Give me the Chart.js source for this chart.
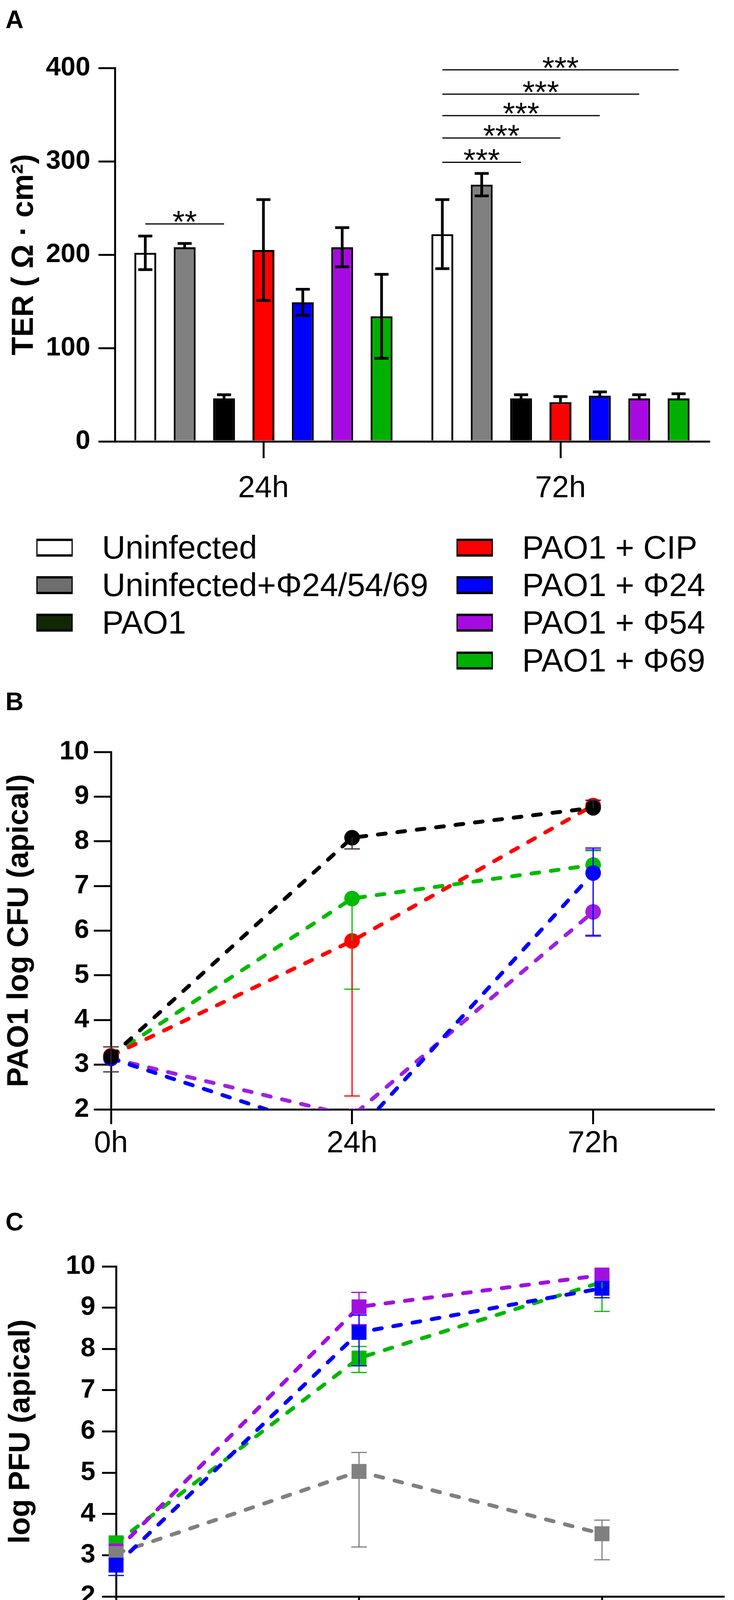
<!DOCTYPE html>
<html>
<head>
<meta charset="utf-8">
<script src="https://cdn.jsdelivr.net/npm/chart.js@4.4.1/dist/chart.umd.min.js"></script>
<style>
  body { margin: 0; background: #fff; width: 1878px; height: 4204px; position: relative; overflow: hidden;
         font-family: "Liberation Sans", Arial, sans-serif; color: #000; }
  .box { position: absolute; left: 0; width: 1878px; }
  .tag { position: absolute; font-weight: bold; font-size: 64px; line-height: 64px; }
  .leg { position: absolute; height: 96px; display: flex; align-items: center; font-size: 83px; white-space: nowrap; }
  .leg .sw { width: 87px; height: 34px; border-style: solid; border-color: #000; border-width: 6px 3px; margin-right: 75px; }
</style>
</head>
<body>
<div class="tag" style="left:14px;top:18px">A</div>
<div class="tag" style="left:14px;top:1764px">B</div>
<div class="tag" style="left:14px;top:3096px">C</div>

<div class="box" style="top:0;height:1300px"><canvas id="chartA"></canvas></div>
<div id="legendA"></div>
<div class="box" style="top:1800px;height:1200px"><canvas id="chartB"></canvas></div>
<div class="box" style="top:3160px;height:1044px"><canvas id="chartC"></canvas></div>

<script>
// ---- panel A: TER bars ----
const terGroups = ['24h', '72h'];
const terSeries = ['Uninfected', 'Uninfected+Φ24/54/69', 'PAO1', 'PAO1 + CIP', 'PAO1 + Φ24', 'PAO1 + Φ54', 'PAO1 + Φ69'];
const ter24h = [202, 208, 46, 205, 149, 208, 134];
const ter72h = [222, 275, 46, 42, 49, 46, 46];
const ter24hErrUp = [18, 4, 4, 54, 14, 21, 45];
const ter24hErrDown = [18, 0, 0, 54, 14, 21, 45];
const ter72hErrUp = [37, 12, 4, 6, 4, 4, 5];
const ter72hErrDown = [37, 12, 0, 0, 0, 0, 0];
const terTicks = [0, 100, 200, 300, 400];

// significance brackets (group index, from series, to series, height, stars)
const sigGroup = [0, 1, 1, 1, 1, 1];
const sigFrom = [0, 0, 0, 0, 0, 0];
const sigTo = [2, 2, 3, 4, 5, 6];
const sigY = [233, 299, 325, 349, 372, 398];
const sigText = ['**', '***', '***', '***', '***', '***'];

// ---- panel B: PAO1 log CFU ----
const timeLabels = ['0h', '24h', '72h'];
const cfuPAO1 = [3.18, 8.08, 8.75];
const cfuPAO1Up = [0.22, 0, 0.17];
const cfuPAO1Down = [0.34, 0.25, 0];
const cfuCIP = [3.20, 5.77, 8.80];
const cfuCIPUp = [0, 0, 0];
const cfuCIPDown = [0, 3.47, 0];
const cfuPhi69 = [3.20, 6.72, 7.47];
const cfuPhi69Up = [0, 0, 0.32];
const cfuPhi69Down = [0, 2.03, 0];
const cfuPhi24 = [3.14, 1.37, 7.29];
const cfuPhi24Up = [0, 0, 0.56];
const cfuPhi24Down = [0, 0, 1.41];
const cfuPhi54 = [3.14, 1.85, 6.42];
const cfuPhi54Up = [0, 0, 1.39];
const cfuPhi54Down = [0, 0, 0.52];

// ---- panel C: log PFU ----
const pfuUninf = [3.04, 5.03, 3.52];
const pfuUninfUp = [0, 0.46, 0.33];
const pfuUninfDown = [0, 1.83, 0.63];
const pfuPhi69 = [3.30, 7.78, 9.62];
const pfuPhi69Up = [0, 0.28, 0];
const pfuPhi69Down = [0, 0.35, 0.71];
const pfuPhi24 = [2.76, 8.40, 9.47];
const pfuPhi24Up = [0, 0.42, 0];
const pfuPhi24Down = [0.25, 0.81, 0.23];
const pfuPhi54 = [3.10, 9.02, 9.79];
const pfuPhi54Up = [0, 0.35, 0];
const pfuPhi54Down = [0, 0.43, 0];

const logTicks = [2, 3, 4, 5, 6, 7, 8, 9, 10];

const FONT = '"Liberation Sans", Arial, sans-serif';
Chart.defaults.font.family = FONT;
Chart.defaults.color = '#000';

// error bars drawn on top of marks, same layering as the datasets
const errorBars = {
  id: 'errorBars',
  afterDatasetsDraw(chart) {
    const ctx = chart.ctx, y = chart.scales.y;
    const metas = chart.getSortedVisibleDatasetMetas();
    for (let m = metas.length - 1; m >= 0; m--) {
      const meta = metas[m];
      const ds = chart.data.datasets[meta.index];
      if (!ds.errUp) continue;
      ctx.save();
      ctx.strokeStyle = ds.errColor;
      ctx.lineWidth = ds.errWidth;
      meta.data.forEach((el, i) => {
        const raw = ds.data[i];
        const v = typeof raw === 'object' ? raw.y : raw;
        const up = ds.errUp[i] || 0, down = ds.errDown[i] || 0;
        if (!up && !down) return;
        const x = el.x, half = ds.errCap;
        const yTop = y.getPixelForValue(v + up), yBot = y.getPixelForValue(v - down);
        ctx.beginPath();
        ctx.moveTo(x, yTop); ctx.lineTo(x, yBot);
        if (up) { ctx.moveTo(x - half, yTop); ctx.lineTo(x + half, yTop); }
        if (down) { ctx.moveTo(x - half, yBot); ctx.lineTo(x + half, yBot); }
        ctx.stroke();
      });
      ctx.restore();
    }
  }
};

const sigBrackets = {
  id: 'sigBrackets',
  afterDatasetsDraw(chart) {
    const ctx = chart.ctx, y = chart.scales.y;
    ctx.save();
    ctx.strokeStyle = '#000';
    ctx.fillStyle = '#000';
    ctx.lineWidth = 3;
    ctx.font = '80px ' + FONT;
    ctx.textAlign = 'center';
    ctx.textBaseline = 'alphabetic';
    sigY.forEach((v, k) => {
      const x1 = chart.getDatasetMeta(sigFrom[k]).data[sigGroup[k]].x;
      const x2 = chart.getDatasetMeta(sigTo[k]).data[sigGroup[k]].x;
      const py = y.getPixelForValue(v);
      ctx.beginPath();
      ctx.moveTo(x1, py); ctx.lineTo(x2, py);
      ctx.stroke();
      ctx.fillText(sigText[k], (x1 + x2) / 2, py + 22);
    });
    ctx.restore();
  }
};

// ---------- A ----------
const barFill = ['#ffffff', '#808080', '#000000', '#ff0000', '#0000ff', '#a70ae0', '#00b000'];
const legendFill = ['#ffffff', '#6e6e6e', '#112806', '#ff0000', '#0000ff', '#a70ae0', '#00b000'];

const chartA = new Chart(document.getElementById('chartA'), {
  type: 'bar',
  data: {
    labels: terGroups,
    datasets: terSeries.map((name, i) => ({
      label: name,
      data: [ter24h[i], ter72h[i]],
      errUp: [ter24hErrUp[i], ter72hErrUp[i]],
      errDown: [ter24hErrDown[i], ter72hErrDown[i]],
      errColor: '#000', errWidth: 7, errCap: 18,
      backgroundColor: barFill[i],
      legendFill: legendFill[i],
      borderColor: '#000',
      borderWidth: 5,
      categoryPercentage: 0.928,
      barPercentage: 0.556
    }))
  },
  options: {
    responsive: true,
    maintainAspectRatio: false,
    animation: false,
    events: [],
    layout: { padding: { left: 0, top: 174, right: 64, bottom: 0 } },
    plugins: { legend: { display: false }, tooltip: { enabled: false } },
    scales: {
      x: {
        offset: true,
        afterFit: s => { s.height = 170; },
        border: { color: '#000', width: 5 },
        grid: { offset: false, drawOnChartArea: false, color: '#000', lineWidth: 5, tickLength: 43 },
        ticks: { color: '#000', padding: 32, font: { size: 78 } }
      },
      y: {
        min: 0, max: 400,
        afterBuildTicks: s => { s.ticks = terTicks.map(v => ({ value: v })); },
        afterFit: s => { s.width = 294; },
        border: { color: '#000', width: 5 },
        grid: { drawOnChartArea: false, color: '#000', lineWidth: 5, tickLength: 42 },
        ticks: { color: '#000', padding: 21, font: { size: 68, weight: 'bold' } },
        title: { display: true, text: 'TER ( Ω · cm²)', color: '#000', padding: { top: 17 },
                 font: { size: 77, weight: 'bold' } }
      }
    }
  },
  plugins: [errorBars, sigBrackets]
});

// legend built from the bar datasets, two columns
(function () {
  const host = document.getElementById('legendA');
  const rowY = [1402, 1498, 1594, 1691];
  chartA.data.datasets.forEach((ds, i) => {
    const col = i < 3 ? 0 : 1;
    const row = i < 3 ? i : i - 3;
    const item = document.createElement('div');
    item.className = 'leg';
    item.style.left = (col ? 1168 : 93) + 'px';
    item.style.top = (rowY[row] - 48) + 'px';
    const sw = document.createElement('div');
    sw.className = 'sw';
    sw.style.background = ds.legendFill;
    const tx = document.createElement('span');
    tx.textContent = ds.label;
    item.appendChild(sw);
    item.appendChild(tx);
    host.appendChild(item);
  });
})();

// ---------- shared line helpers ----------
function lineSet(label, values, up, down, color, order, errColor, style, radius) {
  return {
    label,
    data: values.map((v, i) => ({ x: i, y: v })),
    errUp: up, errDown: down, errColor: errColor || color, errWidth: 3, errCap: 20,
    borderColor: color, backgroundColor: color,
    borderWidth: 10, borderDash: [20, 30], borderCapStyle: 'round',
    pointStyle: style, pointRadius: radius, pointHoverRadius: radius, pointBorderWidth: 0,
    order,
    clip: { left: 60, right: 60, top: 60, bottom: 0 }
  };
}

function timeScales(yWidth, yTickLen, yPad, xHeight, xTickLen, xPad, title, titlePad) {
  return {
    x: {
      type: 'linear', min: 0, max: 2.5,
      afterBuildTicks: s => { s.ticks = timeLabels.map((t, i) => ({ value: i })); },
      afterFit: s => { s.height = xHeight; s.paddingLeft = 0; s.paddingRight = 0; },
      border: { color: '#000', width: 5 },
      grid: { drawOnChartArea: false, color: '#000', lineWidth: 5, tickLength: xTickLen },
      ticks: { color: '#000', padding: xPad, font: { size: 78 }, callback: v => timeLabels[v] }
    },
    y: {
      min: 2, max: 10,
      afterBuildTicks: s => { s.ticks = logTicks.map(v => ({ value: v })); },
      afterFit: s => { s.width = yWidth; },
      border: { color: '#000', width: 5 },
      grid: { drawOnChartArea: false, color: '#000', lineWidth: 5, tickLength: yTickLen },
      ticks: { color: '#000', padding: yPad, font: { size: 68, weight: 'bold' } },
      title: { display: true, text: title, color: '#000', padding: { top: titlePad },
               font: { size: 76, weight: 'bold' } }
    }
  };
}

// ---------- B ----------
new Chart(document.getElementById('chartB'), {
  type: 'line',
  data: {
    datasets: [
      lineSet('PAO1', cfuPAO1, cfuPAO1Up, cfuPAO1Down, '#000000', 1, '#3a2436', 'circle', 20),
      lineSet('PAO1 + Φ24', cfuPhi24, cfuPhi24Up, cfuPhi24Down, '#0000ff', 2, null, 'circle', 20),
      lineSet('PAO1 + CIP', cfuCIP, cfuCIPUp, cfuCIPDown, '#ff0000', 3, null, 'circle', 20),
      lineSet('PAO1 + Φ69', cfuPhi69, cfuPhi69Up, cfuPhi69Down, '#00bb00', 4, null, 'circle', 20),
      lineSet('PAO1 + Φ54', cfuPhi54, cfuPhi54Up, cfuPhi54Down, '#a020e0', 5, null, 'circle', 20)
    ]
  },
  options: {
    responsive: true,
    maintainAspectRatio: false,
    animation: false,
    events: [],
    layout: { padding: { left: 0, top: 125, right: 52, bottom: 0 } },
    plugins: { legend: { display: false }, tooltip: { enabled: false } },
    scales: timeScales(284, 44, 12, 160, 38, 4, 'PAO1 log CFU (apical)', 4)
  },
  plugins: [errorBars]
});

// ---------- C ----------
new Chart(document.getElementById('chartC'), {
  type: 'line',
  data: {
    datasets: [
      lineSet('PAO1 + Φ24', pfuPhi24, pfuPhi24Up, pfuPhi24Down, '#0000ff', 1, null, 'rect', 27),
      lineSet('Uninfected+Φ24/54/69', pfuUninf, pfuUninfUp, pfuUninfDown, '#808080', 2, null, 'rect', 27),
      lineSet('PAO1 + Φ54', pfuPhi54, pfuPhi54Up, pfuPhi54Down, '#a010e0', 3, null, 'rect', 27),
      lineSet('PAO1 + Φ69', pfuPhi69, pfuPhi69Up, pfuPhi69Down, '#00b800', 4, null, 'rect', 27)
    ]
  },
  options: {
    responsive: true,
    maintainAspectRatio: false,
    animation: false,
    events: [],
    layout: { padding: { left: 0, top: 82, right: 9, bottom: 0 } },
    plugins: { legend: { display: false }, tooltip: { enabled: false } },
    scales: timeScales(297, 36, 17, 117, 36, 6, 'log PFU (apical)', 8)
  },
  plugins: [errorBars]
});
</script>
</body>
</html>
